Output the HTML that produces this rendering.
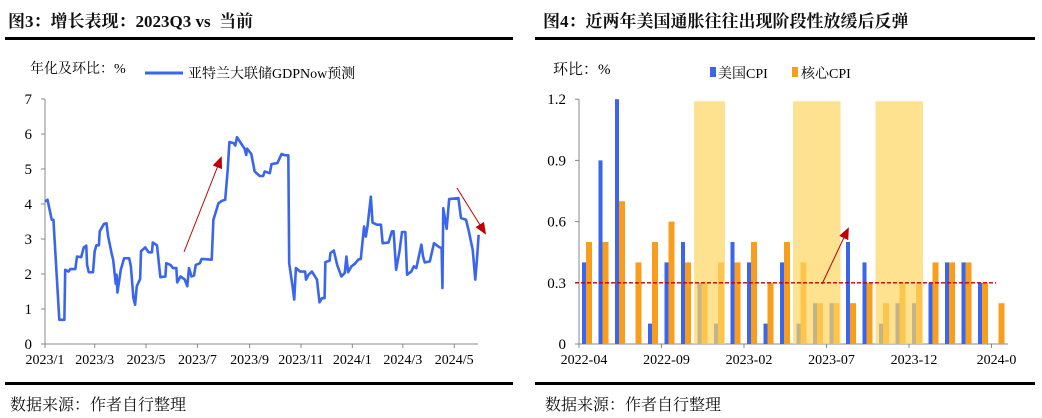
<!DOCTYPE html>
<html><head><meta charset="utf-8">
<style>
body{margin:0;background:#fff;width:1042px;height:418px;overflow:hidden;position:relative;font-family:"Liberation Serif","Noto Serif CJK SC",serif;}
.t{position:absolute;font-weight:bold;font-size:17px;top:7px;font-family:"Liberation Serif","Noto Serif CJK SC",serif;color:#111}
.hl{position:absolute;height:3px;background:#000}
.src{position:absolute;top:392px;font-size:16px;font-family:"Noto Serif CJK SC",serif;color:#111}
svg{position:absolute;left:0;top:0}
</style></head><body>
<div class="t" style="left:8px">图3：增长表现：2023Q3 vs&nbsp; 当前</div>
<div class="t" style="left:543px">图4：近两年美国通胀往往出现阶段性放缓后反弹</div>
<div class="hl" style="left:5px;width:508px;top:37px"></div>
<div class="hl" style="left:535px;width:500px;top:37px"></div>
<div class="hl" style="left:5px;width:508px;top:382px"></div>
<div class="hl" style="left:535px;width:500px;top:382px"></div>
<div class="src" style="left:10px">数据来源：作者自行整理</div>
<div class="src" style="left:545px">数据来源：作者自行整理</div>
<svg width="1042" height="418" id="s" xmlns="http://www.w3.org/2000/svg"></svg>
<script>
// Left chart data (days since 2023-01-01, GDPNow %)
const gdpDays=[0,3,8,10,17,23,24,28,30,36,38,43,46,49,50,52,57,59,61,64,65,70,73,75,79,81,84,85,86,90,94,100,102,105,107,109,113,114,119,123,127,128,133,137,143,144,149,152,156,157,161,166,169,171,174,177,179,184,186,198,200,206,210,214,217,219,224,226,228,234,237,239,240,245,249,255,259,261,267,269,276,281,285,289,290,294,296,298,303,309,310,313,317,323,326,329,332,333,338,339,343,347,352,356,358,360,364,368,372,375,379,381,383,387,389,394,399,401,408,412,414,417,421,424,428,430,435,438,441,447,449,451,457,462,468,471,472,473,477,480,491,494,500,503,508,511,513,515];
const gdpVals=[4.07,4.12,3.55,3.55,0.69,0.69,2.12,2.07,2.14,2.14,2.5,2.48,2.76,2.81,2.26,2.05,2.05,2.65,2.82,2.82,3.22,3.43,3.45,3.07,2.6,2.4,1.72,1.98,1.47,2.12,2.45,2.45,2.22,1.31,1.12,1.65,1.86,2.65,2.76,2.62,2.62,2.9,2.82,1.91,1.93,2.31,2.26,2.17,2.17,1.76,1.93,1.84,1.65,2.17,1.93,1.96,2.26,2.31,2.43,2.41,3.55,4.02,4.09,4.12,4.98,5.77,5.74,5.67,5.91,5.69,5.58,5.4,5.58,5.43,4.93,4.8,4.8,4.93,4.88,5.14,5.17,5.43,5.39,5.39,2.31,1.65,1.27,2.17,2.07,2.07,1.84,1.98,2.07,1.84,1.19,1.31,1.31,2.34,2.38,2.6,2.67,2.26,1.93,2.03,2.5,2.05,2.22,2.29,2.41,2.43,3.36,3.07,3.36,4.21,3.47,3.41,3.41,2.88,2.9,3.22,3.22,2.12,2.65,3.2,3.2,1.98,2.07,2.22,2.17,2.84,2.5,2.33,2.36,2.88,2.77,2.74,1.6,3.88,3.29,4.14,4.17,3.6,3.55,3.26,2.69,1.84,2.41,3.12];
const leftYTicks=[0,1,2,3,4,5,6,7];
const leftXLabels=["2023/1","2023/3","2023/5","2023/7","2023/9","2023/11","2024/1","2024/3","2024/5"];
const leftXTickDays=[0,59,120,181,243,304,365,425,486];
// Right chart data
const months=["2022-04","2022-05","2022-06","2022-07","2022-08","2022-09","2022-10","2022-11","2022-12","2023-01","2023-02","2023-03","2023-04","2023-05","2023-06","2023-07","2023-08","2023-09","2023-10","2023-11","2023-12","2024-01","2024-02","2024-03","2024-04","2024-05"];
const cpiVals=[0.4,0.9,1.2,0,0.1,0.4,0.5,0.3,0.1,0.5,0.4,0.1,0.4,0.1,0.2,0.2,0.5,0.4,0.1,0.2,0.2,0.3,0.4,0.4,0.3,0];
const coreVals=[0.5,0.5,0.7,0.4,0.5,0.6,0.4,0.3,0.4,0.4,0.5,0.3,0.5,0.4,0.2,0.2,0.2,0.3,0.2,0.3,0.3,0.4,0.4,0.4,0.3,0.2];
const shadeStart=[7,13,18];
const shadeEnd=[9,16,21];
const rightYTicks=[0,0.3,0.6,0.9,1.2];
const rightXLabels=["2022-04","2022-09","2023-02","2023-07","2023-12","2024-0"];
const refLine=0.3;

const NS="http://www.w3.org/2000/svg",svg=document.getElementById('s');
function mk(t,a,txt){const e=document.createElementNS(NS,t);for(const k in a)e.setAttribute(k,a[k]);if(txt!==undefined)e.textContent=txt;svg.appendChild(e);return e;}
// left axes
const lx=d=>45+d*0.842, ly=v=>344-v*35;
let e;
e=mk('text',{x:30,y:73,'font-size':14,'font-family':'"Liberation Serif","Noto Serif CJK SC",serif'},'年化及环比：%');

e=mk('line',{x1:145,y1:73,x2:183,y2:73,stroke:'#3a66ee','stroke-width':3});

e=mk('text',{x:188,y:78,'font-size':14,'font-family':'"Liberation Serif","Noto Serif CJK SC",serif'},'亚特兰大联储GDPNow预测');

e=mk('line',{x1:45,y1:99,x2:45,y2:344,stroke:'#888','stroke-width':1});

e=mk('line',{x1:45,y1:344,x2:478,y2:344,stroke:'#888','stroke-width':1});

leftYTicks.forEach(v=>{mk('line',{x1:41,x2:45,y1:ly(v),y2:ly(v),stroke:'#888'});
 e=mk('text',{x:32,y:ly(v)+5,'font-size':15,'text-anchor':'end'},v);
 });
leftXTickDays.forEach((d,i)=>{mk('line',{x1:lx(d),x2:lx(d),y1:344,y2:348,stroke:'#888'});
 e=mk('text',{x:lx(d),y:364,'font-size':14,'text-anchor':'middle'},leftXLabels[i]);
 });
e=mk('polyline',{points:gdpDays.map((d,i)=>lx(d)+','+ly(gdpVals[i])).join(' '),fill:'none',stroke:'#3a66ee','stroke-width':2.6,'stroke-linejoin':'round'});

mk('defs',{}).innerHTML='<marker id="ah" markerWidth="10" markerHeight="8" refX="8" refY="4" orient="auto" markerUnits="userSpaceOnUse"><path d="M0,0 L10,4 L0,8 z" fill="#c00000"/></marker><marker id="ah2" markerWidth="12" markerHeight="10" refX="10" refY="5" orient="auto" markerUnits="userSpaceOnUse"><path d="M0,0 L12,5 L0,10 z" fill="#c00000"/></marker>';
e=mk('line',{x1:184,y1:252,x2:221,y2:158,stroke:'#c00000','stroke-width':1,'marker-end':'url(#ah2)'});

e=mk('line',{x1:457,y1:188,x2:485,y2:233,stroke:'#c00000','stroke-width':1,'marker-end':'url(#ah2)'});


// right chart
const rx=i=>579+i*16.5, ry=v=>344-v*204;
e=mk('text',{x:553,y:74,'font-size':15,'font-family':'"Liberation Serif","Noto Serif CJK SC",serif'},'环比：%');

e=mk('rect',{x:710,y:67,width:6,height:10,fill:'#3a66ee'});

e=mk('text',{x:718,y:78,'font-size':14,'font-family':'"Liberation Serif","Noto Serif CJK SC",serif'},'美国CPI');

e=mk('rect',{x:792,y:67,width:6,height:10,fill:'#f99d1c'});

e=mk('text',{x:801,y:78,'font-size':14,'font-family':'"Liberation Serif","Noto Serif CJK SC",serif'},'核心CPI');

e=mk('line',{x1:579,y1:99,x2:579,y2:344,stroke:'#888'});

e=mk('line',{x1:579,y1:344,x2:1008,y2:344,stroke:'#888'});

rightYTicks.forEach(v=>{mk('line',{x1:575,x2:579,y1:ry(v),y2:ry(v),stroke:'#888'});
 e=mk('text',{x:566,y:ry(v)+5,'font-size':15,'text-anchor':'end'},v===0?'0':v.toFixed(1));
 });
rightXLabels.forEach((l,i)=>{const x=rx(i*5);mk('line',{x1:x,x2:x,y1:344,y2:348,stroke:'#888'});
 e=mk('text',{x:x+5,y:364,'font-size':14,'text-anchor':'middle'},l);
 });
months.forEach((m,i)=>{
 if(cpiVals[i]>0){e=mk('rect',{x:rx(i)+3,y:ry(cpiVals[i]),width:4,height:ry(0)-ry(cpiVals[i]),fill:'#3a66ee'});
  }
 e=mk('rect',{x:rx(i)+7,y:ry(coreVals[i]),width:6,height:ry(0)-ry(coreVals[i]),fill:'#f99d1c'});
 
});
shadeStart.forEach((s,k)=>{
 e=mk('rect',{x:rx(s)-0.5,y:ry(1.19),width:rx(shadeEnd[k])-rx(s)-2,height:ry(0)-ry(1.19),fill:'#ffd560','fill-opacity':0.7});
 
});
e=mk('line',{x1:575,y1:ry(refLine),x2:996,y2:ry(refLine),stroke:'#c00000','stroke-width':1.3,'stroke-dasharray':'4,2'});

e=mk('line',{x1:822,y1:284,x2:848,y2:229,stroke:'#c00000','stroke-width':1,'marker-end':'url(#ah2)'});

</script>
</body></html>
